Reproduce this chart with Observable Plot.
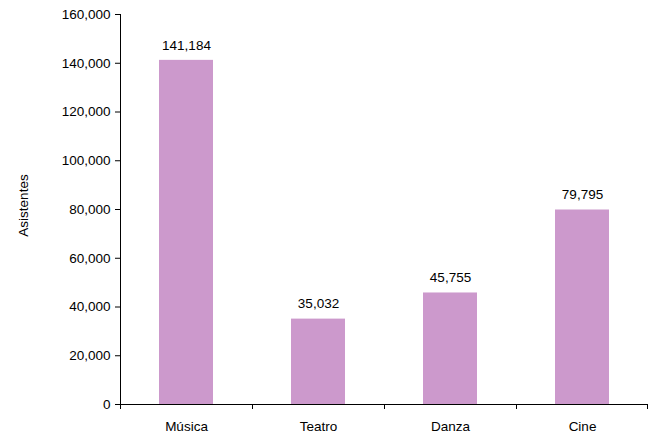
<!DOCTYPE html>
<html>
<head>
<meta charset="utf-8">
<script src="https://cdn.jsdelivr.net/npm/d3@7"></script>
<script src="https://cdn.jsdelivr.net/npm/@observablehq/plot@0.6"></script>
<style>
  html, body { margin: 0; padding: 0; background: #fff; }
  #chart svg { display: block; }
</style>
</head>
<body>
<div id="chart"></div>
<script>
const categories = ["Música", "Teatro", "Danza", "Cine"];
const asistentes = [141184, 35032, 45755, 79795];
const yTicks = [0, 20000, 40000, 60000, 80000, 100000, 120000, 140000, 160000];
const yLabel = "Asistentes";

const data = categories.map((c, i) => ({categoria: c, valor: asistentes[i]}));
const fmt = d3.format(",");
const FONT = "Arial, 'Liberation Sans', Helvetica, sans-serif";

// axis line on the left and tick marks at band boundaries along the bottom
function axisLines(index, scales, values, dimensions, context) {
  const doc = context.document;
  const ns = "http://www.w3.org/2000/svg";
  const g = doc.createElementNS(ns, "g");
  g.setAttribute("stroke", "#000");
  g.setAttribute("stroke-width", "1");
  const x = scales.x, y = scales.y;
  const y0 = y(0), yTop = y(yTicks[yTicks.length - 1]);
  const bw = typeof x.bandwidth === "function" ? x.bandwidth() : 0;
  const centers = categories.map(c => x(c) + bw / 2);
  const step = centers.length > 1 ? centers[1] - centers[0] : (dimensions.width - dimensions.marginLeft - dimensions.marginRight);
  const bounds = centers.map(cx => cx - step / 2).concat([centers[centers.length - 1] + step / 2]);
  const line = (x1, y1, x2, y2) => {
    const l = doc.createElementNS(ns, "line");
    l.setAttribute("x1", x1); l.setAttribute("y1", y1);
    l.setAttribute("x2", x2); l.setAttribute("y2", y2);
    g.appendChild(l);
  };
  const left = bounds[0];
  line(left + 0.5, yTop, left + 0.5, y0);
  bounds.forEach(b => {
    const bx = b >= dimensions.width ? dimensions.width - 0.5 : b + 0.5;
    line(bx, y0, bx, y0 + 5);
  });
  return g;
}

const chart = Plot.plot({
  width: 648,
  height: 435,
  marginLeft: 120,
  marginRight: 0,
  marginTop: 14,
  marginBottom: 31,
  style: {fontFamily: FONT, fontSize: "13.5px", color: "#000", background: "#fff"},
  x: {domain: categories, paddingInner: 0.59, paddingOuter: 0.295, label: null},
  y: {domain: [0, 160000], ticks: yTicks, label: null},
  marks: [
    Plot.barY(data, {x: "categoria", y: "valor", fill: "#cc99cc"}),
    Plot.ruleY([0], {stroke: "#000"}),
    Plot.axisY({ticks: yTicks, tickFormat: fmt, tickSize: 5, tickPadding: 5, label: null, fontSize: 13.5}),
    Plot.axisX({tickSize: 0, tickPadding: 17, label: null, fontSize: 13.5}),
    Plot.text(data, {x: "categoria", y: "valor", text: d => fmt(d.valor), dy: -15, fontSize: 13.5, fill: "#000"}),
    Plot.text([yLabel], {frameAnchor: "left", textAnchor: "middle", rotate: -90, dx: -97, dy: -4, fontSize: 13.5, fill: "#000"}),
    axisLines
  ]
});
document.getElementById("chart").appendChild(chart);
</script>
</body>
</html>
